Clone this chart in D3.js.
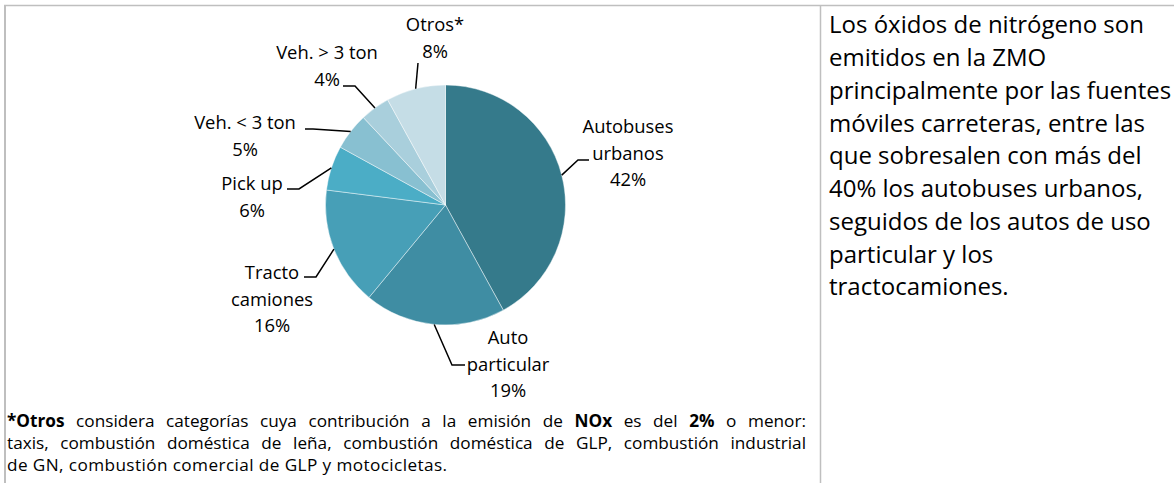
<!DOCTYPE html>
<html><head><meta charset="utf-8">
<script src="https://cdn.jsdelivr.net/npm/d3@7"></script>
<style>
body{margin:0;background:#fff}
svg{display:block}
text{font-family:"Open Sans",Lato,sans-serif;fill:#000}
</style>
</head><body>
<svg id="c" width="1175" height="483"></svg>
<script>
// ---- data ----
const categories = ["Autobuses urbanos","Auto particular","Tracto camiones","Pick up","Veh. < 3 ton","Veh. > 3 ton","Otros*"];
const values = [42,19,16,6,5,4,8];
const labelLines = [["Autobuses","urbanos"],["Auto","particular"],["Tracto","camiones"],["Pick up"],["Veh. < 3 ton"],["Veh. > 3 ton"],["Otros*"]];
const colors = ["#357A8B","#3F8DA3","#479FB7","#4BADC6","#88C0D1","#A9CFDC","#C5DDE6"];
const sideText = [
  "Los óxidos de nitrógeno son",
  "emitidos en la ZMO",
  "principalmente por las fuentes",
  "móviles carreteras, entre las",
  "que sobresalen con más del",
  "40% los autobuses urbanos,",
  "seguidos de los autos de uso",
  "particular y los",
  "tractocamiones."
];
const noteLine1 = [["*Otros",true],["considera"],["categorías"],["cuya"],["contribución"],["a"],["la"],["emisión"],["de"],["NOx",true],["es"],["del"],["2%",true],["o"],["menor:"]];
const noteLine2 = "taxis, combustión doméstica de leña, combustión doméstica de GLP, combustión industrial";
const noteLine3 = "de GN, combustión comercial de GLP y motocicletas.";

// ---- layout (annotation placement) ----
const labelLayout = [
  {cx:628, y:127, elbow:[578,160], end:[589,160]},
  {cx:508, y:338, elbow:[452,365], end:[465,365]},
  {cx:272, y:273, elbow:[316,277], end:[304,277]},
  {cx:252, y:184, elbow:[299,189], end:[287,189]},
  {cx:245, y:123, elbow:[313,129], end:[305,129]},
  {cx:327, y:53,  elbow:[355,86],  end:[343,86]},
  {cx:435, y:25,  elbow:[418,63],  end:[418,63]}
];

const svg = d3.select("#c");
const W = 1175, H = 483;
const cx = 445.5, cy = 205, R = 120;
const labelSize = 18.4, lineH = 26.3;

// borders
const bc = "#BFBFBF";
svg.append("line").attr("x1",4).attr("x2",1174).attr("y1",5.5).attr("y2",5.5).attr("stroke",bc).attr("stroke-width",1.5);
svg.append("line").attr("x1",5).attr("x2",5).attr("y1",5).attr("y2",H).attr("stroke",bc).attr("stroke-width",2);
svg.append("line").attr("x1",820.5).attr("x2",820.5).attr("y1",5).attr("y2",H).attr("stroke",bc).attr("stroke-width",1.5);

// pie
const pie = d3.pie().sort(null).value(d=>d)(values);
const arc = d3.arc().innerRadius(0).outerRadius(R);
const g = svg.append("g").attr("transform",`translate(${cx},${cy})`);
g.selectAll("path").data(pie).join("path")
  .attr("d",arc).attr("fill",(d,i)=>colors[i])
  .attr("stroke","rgba(255,255,255,0.55)").attr("stroke-width",0.8);

// leaders + labels
pie.forEach((d,i)=>{
  const a = (d.startAngle+d.endAngle)/2;
  const sx = cx + R*Math.sin(a), sy = cy - R*Math.cos(a);
  const L = labelLayout[i];
  svg.append("path")
    .attr("d",d3.line()([[sx,sy],L.elbow,L.end]))
    .attr("fill","none").attr("stroke","#000").attr("stroke-width",1.5);
  const lines = labelLines[i].concat([values[i]+"%"]);
  const t = svg.append("text").attr("text-anchor","middle").attr("font-size",labelSize);
  lines.forEach((s,j)=>{
    t.append("tspan").attr("x",L.cx).attr("y",L.y + j*lineH).attr("dy","0.35em").text(s);
  });
});

// side text
const st = svg.append("text").attr("font-size",24);
sideText.forEach((s,j)=>{
  st.append("tspan").attr("x",829).attr("y",25 + j*32.75).attr("dy","0.35em").text(s);
});

// footnote
const noteSize = 17.2;
const left = 7, right = 806;
function measure(s,bold){
  const t = svg.append("text").attr("font-size",noteSize).attr("font-weight",bold?"bold":"normal").text(s);
  const w = t.node().getComputedTextLength(); t.remove(); return w;
}
function justify(words,y){
  const ws = words.map(w=>measure(w[0],w[1]));
  const total = d3.sum(ws);
  const gap = (right-left-total)/(words.length-1);
  let x = left;
  words.forEach((w,k)=>{
    svg.append("text").attr("x",x).attr("y",y).attr("dy","0.35em").attr("font-size",noteSize)
      .attr("font-weight",w[1]?"bold":"normal").text(w[0]);
    x += ws[k]+gap;
  });
}
justify(noteLine1,421);
justify(noteLine2.split(" ").map(s=>[s]),443);
svg.append("text").attr("x",left).attr("y",465).attr("dy","0.35em").attr("font-size",noteSize)
  .attr("letter-spacing",0.4).text(noteLine3);
</script>
</body></html>
